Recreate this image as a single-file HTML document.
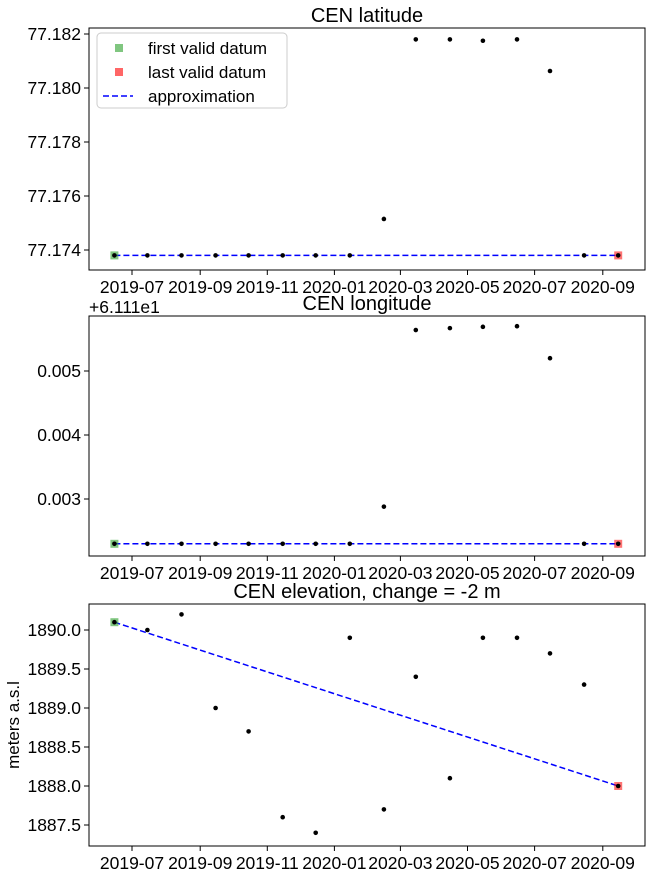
<!DOCTYPE html>
<html><head><meta charset="utf-8"><style>
body{margin:0;background:#fff;width:654px;height:872px;overflow:hidden}
svg{font-family:"Liberation Sans",sans-serif}
</style></head><body>
<svg id="c" width="654" height="872"></svg>
<script>
const dates=["2019-06-15","2019-07-15","2019-08-15","2019-09-15","2019-10-15","2019-11-15","2019-12-15","2020-01-15","2020-02-15","2020-03-15","2020-04-15","2020-05-15","2020-06-15","2020-07-15","2020-08-15","2020-09-15"];
const latVals=[77.1738,77.1738,77.1738,77.1738,77.1738,77.1738,77.1738,77.1738,77.17515,77.1818,77.1818,77.18175,77.1818,77.18063,77.1738,77.1738];
const lonVals=[0.0023,0.0023,0.0023,0.0023,0.0023,0.0023,0.0023,0.0023,0.00288,0.00564,0.00567,0.00569,0.0057,0.0052,0.0023,0.0023];
const elevVals=[1890.1,1890.0,1890.2,1889.0,1888.7,1887.6,1887.4,1889.9,1887.7,1889.4,1888.1,1889.9,1889.9,1889.7,1889.3,1888.0];
const xTicks=["2019-07","2019-09","2019-11","2020-01","2020-03","2020-05","2020-07","2020-09"];
const latTicks=[77.174,77.176,77.178,77.180,77.182];
const lonTicks=[0.003,0.004,0.005];
const elevTicks=[1887.5,1888.0,1888.5,1889.0,1889.5,1890.0];
const NS="http://www.w3.org/2000/svg";
const svg=document.getElementById('c');
const L=89,R=645;
const t0=Date.parse("2019-07-01");
function xs(d){return 132+(Date.parse(d.length==7?d+"-01":d)-t0)/86400000*1.1;}
function mk(tag,attrs,parent){const e=document.createElementNS(NS,tag);for(const k in attrs)e.setAttribute(k,attrs[k]);(parent||svg).appendChild(e);return e;}
function panel(name,top,bot,ticks,vals,y0,v0,y1,v1,fmt,title,ylab,offset,legend){
  const g=mk('g',{});
  
  
  const ys=v=>y0+(v-v0)*(y1-y0)/(v1-v0);
  const fr=mk('rect',{x:L,y:top,width:R-L,height:bot-top,fill:'none',stroke:'#000','stroke-width':1},g);
  
  
  const tt=mk('text',{x:(L+R)/2,y:top-6,'text-anchor':'middle','font-size':20},g);tt.textContent=title;
  
  
  xTicks.forEach(d=>{const x=xs(d);mk('line',{x1:x,x2:x,y1:bot,y2:bot+5,stroke:'#000'},g);
    const t=mk('text',{x:x,y:bot+23,'text-anchor':'middle','font-size':17.5},g);t.textContent=d;
    
    });
  ticks.forEach(v=>{const y=ys(v);mk('line',{x1:L-5,x2:L,y1:y,y2:y,stroke:'#000'},g);
    const t=mk('text',{x:L-8,y:y+6,'text-anchor':'end','font-size':17.5},g);t.textContent=fmt(v);
    
    });
  if(ylab){const t=mk('text',{x:19,y:(top+bot)/2,'text-anchor':'middle','font-size':17,transform:`rotate(-90 19 ${(top+bot)/2})`},g);t.textContent=ylab;
    
    }
  if(offset){const t=mk('text',{x:L,y:top-3,'font-size':17.5},g);t.textContent=offset;
    
    }
  const n=vals.length-1;
  const ln=mk('line',{x1:xs(dates[0]),y1:ys(vals[0]),x2:xs(dates[n]),y2:ys(vals[n]),stroke:'#0000ff','stroke-width':1.5,'stroke-dasharray':'6,3'},g);
  
  
  const f=mk('rect',{x:xs(dates[0])-4,y:ys(vals[0])-4,width:8,height:8,fill:'#2ca02c','fill-opacity':0.6},g);
  
  
  const la=mk('rect',{x:xs(dates[n])-4,y:ys(vals[n])-4,width:8,height:8,fill:'#ff0000','fill-opacity':0.55},g);
  
  
  vals.forEach((v,i)=>{const c=mk('circle',{cx:xs(dates[i]),cy:ys(v),r:2.3,fill:'#000'},g);
    
    });
  if(legend){
    const lg=mk('g',{},g);
    
    
    mk('rect',{x:97,y:33,width:190,height:75,rx:4,fill:'#fff',stroke:'#ccc'},lg);
    const items=[["first valid datum","#2ca02c","sq"],["last valid datum","#ff0000","sq"],["approximation","#0000ff","ln"]];
    items.forEach((it,i)=>{const y=48+i*24;
      if(it[2]=="sq")mk('rect',{x:115,y:y-4,width:8,height:8,fill:it[1],'fill-opacity':0.6},lg);
      else mk('line',{x1:103,x2:133,y1:y,y2:y,stroke:it[1],'stroke-width':1.5,'stroke-dasharray':'6,3'},lg);
      const t=mk('text',{x:148,y:y+6,'font-size':17},lg);t.textContent=it[0];
      
      });
  }
}
panel('latitude',28,270,latTicks,latVals,250,77.174,34,77.182,v=>v.toFixed(3),"CEN latitude",null,null,true);
panel('longitude',316,556,lonTicks,lonVals,499,0.003,371,0.005,v=>v.toFixed(3),"CEN longitude",null,"+6.111e1",false);
panel('elevation',604,846,elevTicks,elevVals,630,1890.0,825,1887.5,v=>v.toFixed(1),"CEN elevation, change = -2 m","meters a.s.l",null,false);
</script>
</body></html>
